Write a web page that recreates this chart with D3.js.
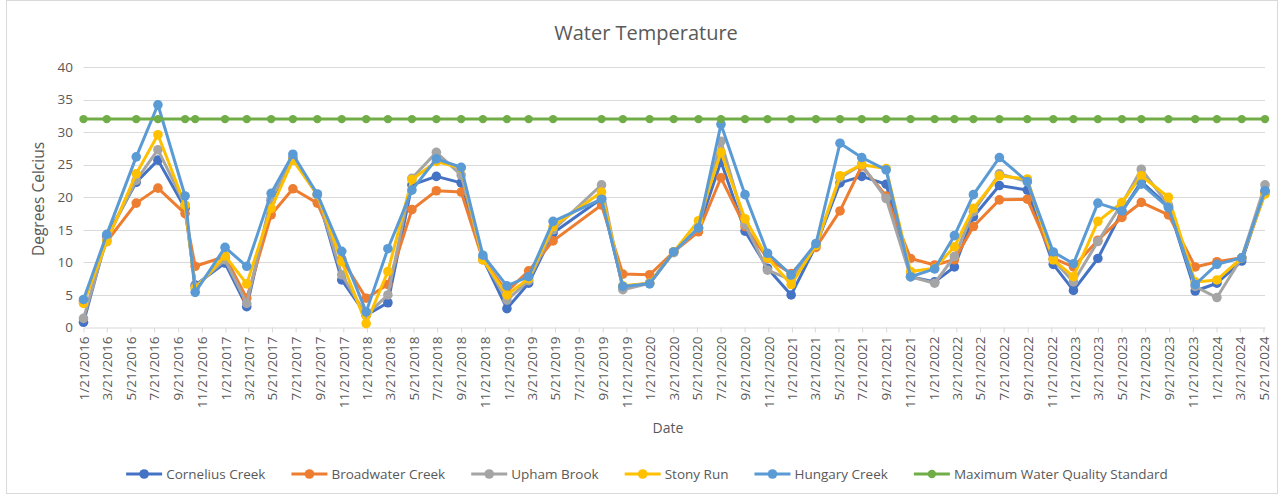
<!DOCTYPE html>
<html lang="en">
<head>
  <meta charset="UTF-8">
  <script src="https://d3js.org/d3.v7.min.js"></script>
  <style>
    body { margin: 0; background: #fff; }
    svg { display: block; font-family: "Open Sans", "Noto Sans", sans-serif; }
  </style>
</head>
<body>
  <script>
    const width = 1283;
    const height = 497;

    // sample dates
    const dates = [
      "2016-01-21", "2016-03-21", "2016-06-05", "2016-07-31", "2016-10-09", "2016-11-04",
      "2017-01-20", "2017-03-17", "2017-05-19", "2017-07-14", "2017-09-15", "2017-11-17",
      "2018-01-19", "2018-03-16", "2018-05-17", "2018-07-19", "2018-09-21", "2018-11-16",
      "2019-01-17", "2019-03-14", "2019-05-16", "2019-09-18", "2019-11-12",
      "2020-01-20", "2020-03-22", "2020-05-25", "2020-07-22", "2020-09-22", "2020-11-19",
      "2021-01-19", "2021-03-24", "2021-05-25", "2021-07-20", "2021-09-21", "2021-11-23",
      "2022-01-24", "2022-03-16", "2022-05-04", "2022-07-10", "2022-09-20", "2022-11-26",
      "2023-01-17", "2023-03-21", "2023-05-22", "2023-07-11", "2023-09-19", "2023-11-27",
      "2024-01-22", "2024-03-26", "2024-05-25"
    ];

    const cornelius = [0.8, 14.0, 22.3, 25.7, 18.3, 6.5, 9.9, 3.2, 19.5, 26.0, 20.4, 7.3,
      1.9, 3.8, 21.9, 23.2, 22.2, 10.6, 2.9, 6.8, 14.5, 19.8, 6.3, 6.8, 11.6, 15.2, 25.5,
      14.8, 9.1, 5.0, 12.6, 22.2, 23.2, 22.0, 7.8, 7.0, 9.3, 17.0, 21.8, 21.1, 9.7, 5.7,
      10.6, 17.8, 22.4, 18.6, 5.6, 6.8, 10.2, 20.9];
    const broadwater = [4.0, 13.2, 19.1, 21.4, 17.5, 9.4, 10.9, 4.5, 17.3, 21.3, 19.1, 10.5,
      4.5, 6.6, 18.1, 21.0, 20.8, 10.4, 5.5, 8.7, 13.3, 18.8, 8.2, 8.1, 11.6, 14.7, 23.0,
      15.5, 10.6, 8.3, 12.3, 17.9, 24.8, 20.2, 10.6, 9.6, 10.4, 15.5, 19.6, 19.7, 10.6, 9.3,
      13.4, 16.9, 19.2, 17.3, 9.3, 10.1, 10.7, 20.6];
    const upham = [1.4, 13.6, 22.6, 27.3, 18.8, 6.3, 10.4, 3.7, 19.8, 26.0, 20.4, 8.1,
      1.9, 5.0, 22.9, 26.9, 23.4, 10.6, 4.2, 7.2, 15.0, 21.9, 5.8, 6.8, 11.5, 15.3, 28.6,
      15.8, 8.8, 7.3, 12.6, 23.0, 25.0, 19.8, 7.8, 6.8, 10.9, 17.8, 23.6, 22.4, 10.4, 7.0,
      13.2, 19.0, 24.3, 18.8, 6.3, 4.6, 10.7, 21.9];
    const stony = [3.7, 13.2, 23.6, 29.6, 18.8, 6.0, 11.0, 6.7, 18.3, 25.7, 20.4, 10.1,
      0.6, 8.6, 22.7, 25.5, 24.5, 10.4, 5.0, 7.5, 15.5, 20.8, 6.4, 6.8, 11.6, 16.4, 26.9,
      16.7, 10.7, 6.6, 12.6, 23.3, 25.0, 24.4, 8.6, 9.1, 12.4, 18.3, 23.3, 22.8, 10.4, 7.8,
      16.3, 19.2, 23.3, 20.0, 7.0, 7.3, 10.7, 20.5];
    const hungary = [4.3, 14.3, 26.2, 34.2, 20.2, 5.4, 12.3, 9.4, 20.6, 26.6, 20.5, 11.7,
      2.4, 12.1, 21.1, 25.9, 24.6, 11.1, 6.4, 7.8, 16.3, 19.7, 6.3, 6.7, 11.6, 15.3, 31.2,
      20.4, 11.4, 8.1, 12.9, 28.3, 26.1, 24.2, 7.8, 9.0, 14.1, 20.4, 26.1, 22.4, 11.6, 9.8,
      19.1, 17.9, 22.0, 18.4, 6.6, 9.7, 10.7, 21.0];
    const maxStandard = [32, 32, 32, 32, 32, 32, 32, 32, 32, 32, 32, 32, 32, 32, 32, 32, 32,
      32, 32, 32, 32, 32, 32, 32, 32, 32, 32, 32, 32, 32, 32, 32, 32, 32, 32, 32, 32, 32, 32,
      32, 32, 32, 32, 32, 32, 32, 32, 32, 32, 32];

    const seriesNames = ["Cornelius Creek", "Broadwater Creek", "Upham Brook", "Stony Run",
      "Hungary Creek", "Maximum Water Quality Standard"];
    const seriesValues = [cornelius, broadwater, upham, stony, hungary, maxStandard];
    const colors = ["#4472C4", "#ED7D31", "#A5A5A5", "#FFC000", "#5B9BD5", "#70AD47"];

    const yTicks = [0, 5, 10, 15, 20, 25, 30, 35, 40];

    const parse = d3.timeParse("%Y-%m-%d");
    const fmt = d3.timeFormat("%-m/%-d/%Y");
    const parsedDates = dates.map(parse);

    const axisStart = parse("2016-01-21");
    const lastTick = parse("2024-05-21");
    const xTicks = [];
    for (let t = axisStart; t <= lastTick; t = d3.timeMonth.offset(t, 2)) xTicks.push(t);

    const plot = { left: 83.5, right: 1265, top: 67, bottom: 327.5 };

    const x = d3.scaleTime()
      .domain([axisStart, parsedDates[parsedDates.length - 1]])
      .range([plot.left, plot.right]);
    const y = d3.scaleLinear().domain([0, 40]).range([plot.bottom, plot.top]);

    const svg = d3.select("body").append("svg")
      .attr("width", width)
      .attr("height", height);

    // chart border
    svg.append("rect")
      .attr("x", 6.5).attr("y", 0.5)
      .attr("width", 1271).attr("height", 493)
      .attr("fill", "#fff")
      .attr("stroke", "#d9d9d9");

    // title
    svg.append("text")
      .attr("x", 646).attr("y", 40)
      .attr("text-anchor", "middle")
      .attr("font-size", 20)
      .attr("fill", "#595959")
      .text("Water Temperature");

    // gridlines
    svg.append("g")
      .selectAll("line")
      .data(yTicks.slice(1))
      .join("line")
      .attr("x1", plot.left).attr("x2", plot.right)
      .attr("y1", d => Math.round(y(d)) + 0.5)
      .attr("y2", d => Math.round(y(d)) + 0.5)
      .attr("stroke", "#d9d9d9");

    // y axis labels
    svg.append("g")
      .selectAll("text")
      .data(yTicks)
      .join("text")
      .attr("x", 73)
      .attr("y", d => y(d))
      .attr("dy", "0.35em")
      .attr("text-anchor", "end")
      .attr("font-size", 13.5)
      .attr("fill", "#595959")
      .text(d => d);

    // x axis
    const xAxis = svg.append("g")
      .attr("transform", `translate(0,${plot.bottom})`)
      .call(d3.axisBottom(x).tickValues(xTicks).tickFormat(fmt).tickSize(5).tickSizeOuter(0));
    xAxis.select(".domain").attr("stroke", "#d9d9d9");
    xAxis.selectAll(".tick line").attr("stroke", "#d9d9d9");
    xAxis.selectAll(".tick text")
      .attr("font-size", 13.5)
      .attr("font-family", "\"Open Sans\", sans-serif")
      .attr("fill", "#595959")
      .attr("text-anchor", "end")
      .attr("transform", "rotate(-90)")
      .attr("x", -9)
      .attr("y", 0)
      .attr("dy", "0.35em");

    // axis titles
    svg.append("text")
      .attr("transform", "translate(44,199) rotate(-90)")
      .attr("text-anchor", "middle")
      .attr("font-size", 15.5)
      .attr("fill", "#595959")
      .text("Degrees Celcius");

    svg.append("text")
      .attr("x", 668).attr("y", 433)
      .attr("text-anchor", "middle")
      .attr("font-size", 14)
      .attr("fill", "#595959")
      .text("Date");

    // series
    const line = d3.line()
      .x((d, i) => x(parsedDates[i]))
      .y(d => y(d));

    seriesValues.forEach((vals, s) => {
      const g = svg.append("g");
      const isStd = s === 5;
      g.append("path")
        .datum(vals)
        .attr("d", line)
        .attr("fill", "none")
        .attr("stroke", colors[s])
        .attr("stroke-width", 3)
        .attr("stroke-linejoin", "round");
      g.selectAll("circle")
        .data(vals)
        .join("circle")
        .attr("cx", (d, i) => x(parsedDates[i]))
        .attr("cy", d => y(d))
        .attr("r", isStd ? 4.2 : 4.8)
        .attr("fill", colors[s]);
    });

    // legend
    const legend = svg.append("g");
    const items = legend.selectAll("g")
      .data(seriesNames)
      .join("g");
    items.append("line")
      .attr("x1", 0).attr("x2", 36)
      .attr("y1", 0).attr("y2", 0)
      .attr("stroke", (d, i) => colors[i])
      .attr("stroke-width", 3);
    items.append("circle")
      .attr("cx", 18).attr("cy", 0)
      .attr("r", (d, i) => i === 5 ? 4.2 : 4.8)
      .attr("fill", (d, i) => colors[i]);
    items.append("text")
      .attr("x", 40).attr("dy", "0.35em")
      .attr("font-size", 13.5)
      .attr("fill", "#595959")
      .text(d => d);

    let offset = 0;
    const itemGap = 26;
    const widths = [];
    items.each(function () {
      const w = 40 + d3.select(this).select("text").node().getComputedTextLength();
      widths.push(w);
    });
    const total = d3.sum(widths) + itemGap * (widths.length - 1);
    const startX = 647 - total / 2;
    items.attr("transform", (d, i) => {
      const tx = startX + offset;
      offset += widths[i] + itemGap;
      return `translate(${tx},474)`;
    });
  </script>
</body>
</html>
